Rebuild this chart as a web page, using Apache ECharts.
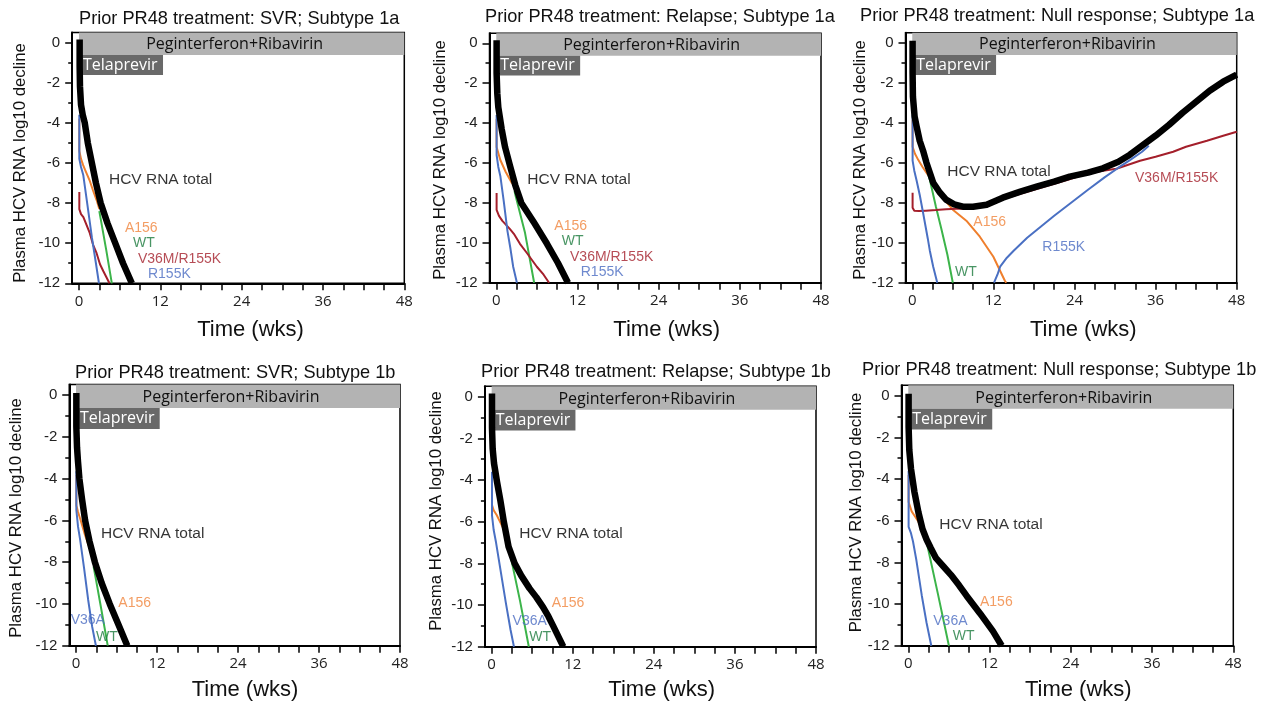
<!DOCTYPE html>
<html><head><meta charset="utf-8">
<script src="https://cdn.jsdelivr.net/npm/echarts@6/dist/echarts.min.js"></script>
<style>html,body{margin:0;padding:0;background:#fff}#c{width:1264px;height:706px}</style>
</head><body><div id="c"></div>
<script>
// ---------- axis ticks / labels ----------
const xTickValues = [0,3,6,9,12,15,18,21,24,27,30,33,36,39,42,45,48];
const xLabelValues = [0,12,24,36,48];
const yLabelValues = [-12,-10,-8,-6,-4,-2,0];
const yMinorValues = [-12,-11,-10,-9,-8,-7,-6,-5,-4,-3,-2,-1,0];

const panelTitles = [
  'Prior PR48 treatment: SVR; Subtype 1a',
  'Prior PR48 treatment: Relapse; Subtype 1a',
  'Prior PR48 treatment: Null response; Subtype 1a',
  'Prior PR48 treatment: SVR; Subtype 1b',
  'Prior PR48 treatment: Relapse; Subtype 1b',
  'Prior PR48 treatment: Null response; Subtype 1b'
];
const yAxisName = 'Plasma HCV RNA log10 decline';
const xAxisName = 'Time (wks)';

// ---------- data: [weeks, log10 decline] ----------
// Panel 1: SVR, 1a
const p1Total = [[0.1,0.15],[0.1,-1.2],[0.15,-2.2],[0.3,-3.1],[0.55,-3.6],[0.85,-4.0],[1.3,-5.0],[1.9,-6.0],[2.5,-7.0],[3.2,-8.0],[4.2,-9.0],[5.35,-10.0],[6.5,-11.0],[7.8,-12.0]];
const p1A156 = [[0.05,-3.8],[0.05,-5.4],[0.3,-5.8],[0.6,-6.1],[0.9,-6.35],[1.6,-6.9],[2.1,-7.4],[2.6,-7.85],[3.0,-8.3]];
const p1WT = [[3.0,-8.4],[4.0,-10.3],[4.85,-12.0]];
const p1V36MR155K = [[0.05,-7.45],[0.05,-8.3],[0.3,-8.55],[0.65,-8.7],[1.6,-9.5],[2.1,-10.1],[2.6,-10.5],[3.1,-11.05],[3.6,-11.4],[4.5,-12.0]];
const p1R155K = [[0.05,-3.6],[0.05,-5.8],[0.3,-6.2],[0.63,-6.6],[1.25,-8.1],[1.9,-9.7],[2.5,-11.0],[2.95,-12.0]];
// Panel 2: Relapse, 1a
const p2Total = [[0.05,0.15],[0.05,-1.5],[0.15,-2.5],[0.3,-3.2],[0.8,-4.3],[1.3,-5.2],[2.0,-6.1],[2.8,-7.1],[3.7,-8.0],[5.6,-9.0],[7.5,-10.05],[9.1,-11.0],[10.6,-12.0]];
const p2A156 = [[0.05,-3.8],[0.05,-5.2],[0.3,-5.5],[0.6,-5.85],[1.4,-6.45],[2.3,-7.0],[2.8,-7.2]];
const p2WT = [[2.7,-7.4],[2.9,-7.7],[4.25,-9.5],[5.6,-12.0]];
const p2V36MR155K = [[0.05,-7.5],[0.05,-8.35],[0.4,-8.65],[0.9,-8.9],[2.0,-9.3],[2.6,-9.55],[3.5,-10.05],[4.5,-10.5],[6.0,-11.2],[7.0,-11.6],[7.8,-12.0]];
const p2R155K = [[0.05,-3.6],[0.05,-5.6],[0.3,-6.2],[0.6,-6.65],[1.1,-7.9],[1.65,-9.4],[2.1,-10.3],[2.5,-11.2],[3.05,-12.0]];
// Panel 3: Null response, 1a
const p3Total = [[0.05,0.1],[0.05,-1.5],[0.1,-2.7],[0.35,-3.7],[0.65,-4.2],[1.1,-4.9],[1.6,-5.4],[2.1,-6.0],[2.6,-6.5],[3.1,-7.0],[4.1,-7.5],[5.0,-7.85],[6.2,-8.08],[7.5,-8.2],[9.0,-8.2],[11.0,-8.1],[13.4,-7.75],[16.0,-7.45],[18.4,-7.2],[21.0,-6.95],[23.3,-6.7],[26.0,-6.5],[28.2,-6.28],[30.5,-5.95],[32.2,-5.6],[34.0,-5.15],[36.0,-4.65],[38.0,-4.1],[40.0,-3.5],[42.0,-2.95],[44.0,-2.4],[46.0,-1.95],[48.0,-1.6]];
const p3A156 = [[0.05,-3.85],[0.05,-5.2],[0.4,-5.55],[0.9,-5.87],[1.5,-6.2],[2.1,-6.5],[2.9,-6.9],[4.0,-7.5],[5.0,-7.95],[6.0,-8.35],[8.0,-8.9],[10.0,-9.7],[12.0,-10.7],[13.7,-11.9],[13.9,-12.0]];
const p3WT = [[2.4,-6.6],[2.6,-6.85],[3.5,-8.2],[4.3,-9.3],[5.2,-10.6],[6.0,-12.0]];
const p3V36MR155K = [[0.05,-7.5],[0.05,-8.25],[0.3,-8.4],[1.0,-8.42],[2.0,-8.4],[3.5,-8.37],[5.0,-8.33],[6.5,-8.3],[8.0,-8.3],[10.0,-8.2],[13.0,-7.85],[16.0,-7.55],[20.0,-7.15],[23.0,-6.85],[25.3,-6.6],[28.0,-6.42],[30.2,-6.3],[33.7,-5.9],[36.0,-5.7],[38.6,-5.45],[40.5,-5.2],[43.6,-4.9],[46.0,-4.65],[48.0,-4.45]];
const p3R155K = [[0.05,-3.6],[0.05,-5.9],[0.3,-6.4],[0.65,-6.9],[1.1,-7.6],[1.6,-8.5],[2.3,-9.8],[2.6,-10.4],[3.1,-11.2],[3.7,-12.0],[8.0,null],[12.1,-12.0],[12.6,-11.6],[13.0,-11.2],[14.0,-10.75],[15.0,-10.4],[17.0,-9.75],[19.0,-9.2],[21.0,-8.65],[23.5,-8.0],[26.0,-7.35],[28.5,-6.72],[30.5,-6.25],[32.2,-5.87],[34.0,-5.45],[35.0,-5.15]];
// Panel 4: SVR, 1b
const p4Total = [[0.05,0.1],[0.05,-1.5],[0.15,-2.5],[0.3,-3.2],[0.5,-4.0],[0.9,-5.0],[1.35,-6.0],[2.0,-7.0],[2.8,-8.0],[3.8,-9.0],[5.0,-10.0],[6.3,-11.0],[7.6,-12.0]];
const p4A156 = [[0.05,-3.83],[0.05,-5.27],[0.3,-5.6],[0.6,-5.9],[1.33,-6.7],[2.2,-7.5],[2.7,-7.9]];
const p4WT = [[2.6,-8.2],[2.96,-8.84],[3.8,-10.35],[4.7,-12.0]];
const p4V36A = [[0.05,-3.65],[0.05,-5.5],[0.3,-6.3],[0.6,-6.9],[1.2,-8.3],[1.8,-9.8],[2.4,-11.1],[2.95,-12.0]];
// Panel 5: Relapse, 1b
const p5Total = [[0.05,0.15],[0.05,-1.5],[0.15,-2.5],[0.35,-3.2],[0.8,-4.1],[1.3,-5.0],[1.8,-6.0],[2.5,-7.2],[3.4,-8.0],[4.4,-8.6],[5.6,-9.2],[6.6,-9.62],[7.6,-10.1],[8.4,-10.55],[9.1,-11.0],[10.6,-12.0]];
const p5A156 = [[0.05,-3.76],[0.05,-5.2],[0.3,-5.45],[0.74,-5.68],[1.72,-6.32],[2.3,-6.85],[2.6,-7.1]];
const p5WT = [[2.6,-7.4],[2.9,-7.8],[4.2,-9.8],[5.5,-12.0]];
const p5V36A = [[0.05,-3.6],[0.05,-5.7],[0.3,-6.4],[0.65,-7.0],[1.3,-8.3],[2.1,-9.9],[2.8,-11.2],[3.3,-12.0]];
// Panel 6: Null response, 1b
const p6Total = [[0.05,0.1],[0.05,-1.5],[0.15,-2.6],[0.4,-3.5],[0.9,-4.6],[1.5,-5.6],[2.1,-6.4],[2.7,-6.9],[3.3,-7.3],[4.1,-7.8],[5.2,-8.2],[6.3,-8.6],[7.5,-9.1],[8.6,-9.6],[10.6,-10.45],[12.5,-11.3],[13.8,-12.0]];
const p6A156 = [[0.05,-3.8],[0.05,-5.1],[0.5,-5.55],[1.0,-5.8],[1.5,-6.05],[2.3,-6.65],[2.7,-6.9]];
const p6WT = [[2.5,-6.8],[2.8,-7.15],[4.4,-9.55],[6.0,-12.0]];
const p6V36A = [[0.05,-3.6],[0.05,-6.3],[0.4,-6.6],[0.7,-7.0],[1.2,-7.9],[2.0,-9.6],[2.7,-10.9],[3.4,-12.0]];

// ---------- styles ----------
const COL = {total:'#000000', a156:'#ef7f2d', wt:'#3cb44a', mut:'#a41f2b', blue:'#4a70c3', peg:'#b3b3b3', tel:'#696969'};
const LCOL = {total:'#000000', a156:'#f0853c', wt:'#1c7a3d', mut:'#a41f2b', blue:'#4a6cc2'};
const SANS = '"Liberation Sans", Arial, sans-serif';
const OPEN = '"Open Sans", "Noto Sans", sans-serif';

// ---------- layout ----------
const panels = [
  {grid:[72.2,32.5,332.1,250.8], title:[79,19], yName:[20.7,163], xName:[250.5,330],
   total:p1Total, curves:[[p1A156,COL.a156],[p1WT,COL.wt],[p1V36MR155K,COL.mut],[p1R155K,COL.blue]],
   labels:[['HCV RNA total',4.42,-6.85,LCOL.total,15.5],['A156',6.78,-9.24,LCOL.a156,14],['WT',7.96,-9.98,LCOL.wt,14],['V36M/R155K',8.7,-10.78,LCOL.mut,14],['R155K',10.18,-11.53,LCOL.blue,14]]},
  {grid:[489.5,33.3,331.5,249.4], title:[485,17], yName:[440,160], xName:[666.7,330],
   total:p2Total, curves:[[p2A156,COL.a156],[p2WT,COL.wt],[p2V36MR155K,COL.mut],[p2R155K,COL.blue]],
   labels:[['HCV RNA total',4.59,-6.82,LCOL.total,15.5],['A156',8.58,-9.19,LCOL.a156,14],['WT',9.67,-9.94,LCOL.wt,14],['V36M/R155K',10.9,-10.73,LCOL.mut,14],['R155K',12.49,-11.48,LCOL.blue,14]]},
  {grid:[905.5,32.7,331.2,250], title:[860,16], yName:[860,160], xName:[1083.3,330],
   total:p3Total, curves:[[p3A156,COL.a156],[p3WT,COL.wt],[p3V36MR155K,COL.mut],[p3R155K,COL.blue]],
   labels:[['HCV RNA total',5.18,-6.45,LCOL.total,15.5],['A156',9.03,-8.98,LCOL.a156,14],['R155K',19.24,-10.2,LCOL.blue,14],['WT',6.32,-11.45,LCOL.wt,14],['V36M/R155K',32.95,-6.75,LCOL.mut,14]]},
  {grid:[69.25,384.6,330.75,261.1], title:[75,373], yName:[16,518], xName:[245,690],
   total:p4Total, curves:[[p4A156,COL.a156],[p4WT,COL.wt],[p4V36A,COL.blue]],
   labels:[['HCV RNA total',3.7,-6.65,LCOL.total,15.5],['A156',6.27,-9.97,LCOL.a156,14],['V36A',-0.79,-10.8,LCOL.blue,14],['WT',2.96,-11.57,LCOL.wt,14]]},
  {grid:[484.9,386.3,331.1,260.4], title:[481,372], yName:[436,511], xName:[661.7,690],
   total:p5Total, curves:[[p5A156,COL.a156],[p5WT,COL.wt],[p5V36A,COL.blue]],
   labels:[['HCV RNA total',4.08,-6.59,LCOL.total,15.5],['A156',8.88,-9.92,LCOL.a156,14],['V36A',3.1,-10.75,LCOL.blue,14],['WT',5.56,-11.52,LCOL.wt,14]]},
  {grid:[901.5,385.3,331.8,260.4], title:[862,370], yName:[856.7,512.5], xName:[1078.3,690],
   total:p6Total, curves:[[p6A156,COL.a156],[p6WT,COL.wt],[p6V36A,COL.blue]],
   labels:[['HCV RNA total',4.58,-6.21,LCOL.total,15.5],['A156',10.59,-9.92,LCOL.a156,14],['V36A',3.69,-10.8,LCOL.blue,14],['WT',6.56,-11.55,LCOL.wt,14]]}
];

const grids = [], xAxes = [], yAxes = [], series = [], graphics = [];
panels.forEach((p, i) => {
  grids.push({left:p.grid[0], top:p.grid[1], width:p.grid[2], height:p.grid[3], show:true, borderColor:'#000', borderWidth:1.5, backgroundColor:'transparent'});
  xAxes.push({type:'value', gridIndex:i, min:-1, max:48, position:'bottom',
    axisLine:{show:true, onZero:false, lineStyle:{color:'#000', width:2}},
    axisTick:{show:true, customValues:xTickValues, length:7, lineStyle:{color:'#000', width:1.5}},
    axisLabel:{show:true, customValues:xLabelValues, margin:11, fontFamily:OPEN, fontSize:15, color:'#222'},
    splitLine:{show:false}});
  yAxes.push({type:'value', gridIndex:i, min:-12, max:0.5, position:'left', offset:0,
    axisLine:{show:true, onZero:false, lineStyle:{color:'#000', width:2}},
    axisTick:{show:true, customValues:yLabelValues, length:7, lineStyle:{color:'#000', width:1.5}},
    axisLabel:{show:true, customValues:yLabelValues, margin:12, fontFamily:SANS, fontSize:15, color:'#222'},
    splitLine:{show:false}});
  yAxes.push({type:'value', gridIndex:i, min:-12, max:0.5, position:'left', offset:0,
    axisLine:{show:false, onZero:false},
    axisTick:{show:true, customValues:yMinorValues, length:4, lineStyle:{color:'#000', width:1.5}},
    axisLabel:{show:false}, splitLine:{show:false}});
  // treatment bars
  series.push({type:'line', xAxisIndex:i, yAxisIndex:2*i, data:[], silent:true, z:1,
    markArea:{silent:true, data:[
      [{name:'Peginterferon+Ribavirin', coord:[0,0.5], itemStyle:{color:COL.peg},
        label:{show:true, position:'inside', offset:[-7,1], color:'#111', fontFamily:OPEN, fontSize:16}},
       {coord:[48,-0.62]}],
      [{name:'Telaprevir', coord:[0,-0.62], itemStyle:{color:COL.tel},
        label:{show:true, position:'insideLeft', distance:4, color:'#fff', fontFamily:OPEN, fontSize:16}},
       {coord:[12.4,-1.62]}]
    ]}});
  p.curves.forEach(c => {
    series.push({type:'line', xAxisIndex:i, yAxisIndex:2*i, data:c[0], symbol:'none', showSymbol:false,
      connectNulls:false, lineStyle:{color:c[1], width:2}, z:3, silent:true});
  });
  series.push({type:'line', xAxisIndex:i, yAxisIndex:2*i, data:p.total, symbol:'none', showSymbol:false,
    lineStyle:{color:COL.total, width:6.5, join:'round'}, z:5, silent:true});
  series.push({type:'scatter', xAxisIndex:i, yAxisIndex:2*i, symbolSize:0, silent:true, z:4,
    data:p.labels.map(l => ({value:[l[1], l[2]], label:{formatter:l[0], color:l[3], fontSize:l[4]}})),
    label:{show:true, position:'right', distance:0, fontFamily:SANS}});
  graphics.push({type:'text', x:p.title[0], y:p.title[1], silent:true,
    style:{text:panelTitles[i], font:'18.2px ' + SANS, fill:'#111', textAlign:'left', textVerticalAlign:'middle', align:'left', verticalAlign:'middle'}});
  graphics.push({type:'text', x:p.yName[0], y:p.yName[1], rotation:Math.PI/2, silent:true,
    style:{text:yAxisName, font:'16.8px ' + SANS, fill:'#111', textAlign:'center', textVerticalAlign:'middle', align:'center', verticalAlign:'middle'}});
  graphics.push({type:'text', x:p.xName[0], y:p.xName[1], silent:true,
    style:{text:xAxisName, font:'22px ' + SANS, fill:'#111', textAlign:'center', textVerticalAlign:'middle', align:'center', verticalAlign:'middle'}});
});

const chart = echarts.init(document.getElementById('c'), null, {renderer:'canvas'});
chart.setOption({animation:false, backgroundColor:'#fff', grid:grids, xAxis:xAxes, yAxis:yAxes, series:series, graphic:{elements:graphics}});
</script></body></html>
